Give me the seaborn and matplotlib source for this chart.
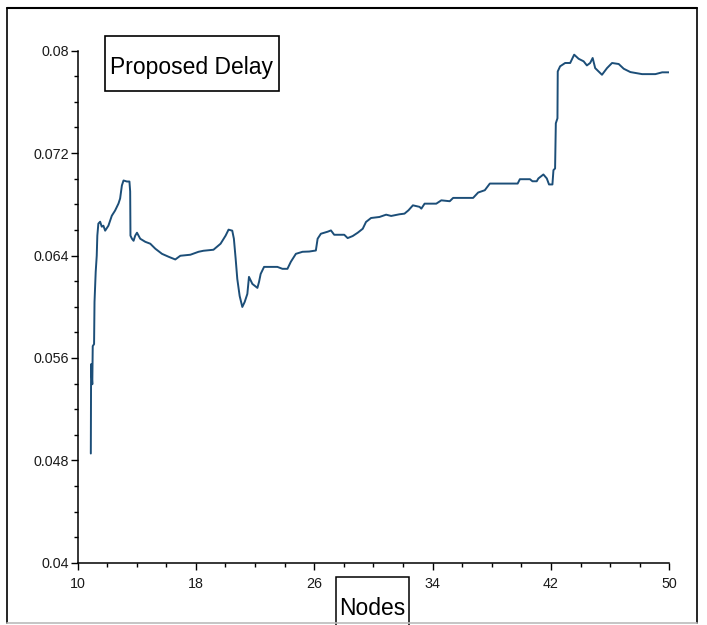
import matplotlib
matplotlib.use("Agg")
import matplotlib.pyplot as plt
import matplotlib.font_manager as fm
from matplotlib.patches import Rectangle
from matplotlib.lines import Line2D
from matplotlib.ticker import MultipleLocator
import seaborn as sns
import pandas as pd

# Average end-to-end delay of the proposed scheme as the node count grows
nodes = [10.90, 10.92, 11.00, 11.03, 11.12, 11.15, 11.23, 11.30, 11.34, 11.41,
         11.53, 11.64, 11.75, 11.87, 12.09, 12.32, 12.54, 12.77, 12.88, 13.00,
         13.11, 13.34, 13.51, 13.56, 13.58, 13.68, 13.79, 13.90, 14.02, 14.24,
         14.58, 14.92, 15.26, 15.71, 16.16, 16.61, 16.95, 17.63, 18.18, 18.51,
         19.19, 19.67, 20.01, 20.21, 20.46, 20.57, 20.69, 20.80, 20.96, 21.14,
         21.30, 21.48, 21.59, 21.82, 22.16, 22.27, 22.38, 22.61, 23.06, 23.51,
         23.85, 24.19, 24.42, 24.76, 25.21, 25.66, 26.11, 26.23, 26.45, 26.91,
         27.13, 27.35, 28.03, 28.26, 28.60, 28.94, 29.28, 29.50, 29.84, 30.41,
         30.86, 31.20, 31.76, 32.10, 32.37, 32.67, 33.12, 33.24, 33.46, 34.25,
         34.59, 35.16, 35.39, 36.74, 37.08, 37.53, 37.87, 38.78, 39.75, 39.90,
         40.58, 40.75, 41.04, 41.15, 41.49, 41.72, 41.87, 42.10, 42.17, 42.28,
         42.33, 42.44, 42.46, 42.62, 42.96, 43.30, 43.57, 43.87, 44.21, 44.43,
         44.65, 44.82, 44.99, 45.22, 45.45, 45.79, 46.13, 46.58, 46.92, 47.37,
         48.16, 49.06, 49.52, 50.00]
delay = [0.04853, 0.05551, 0.05394, 0.05692, 0.05708, 0.06037, 0.06272, 0.06398, 0.06555, 0.06649,
         0.06664, 0.06625, 0.06633, 0.06594, 0.06633, 0.06711, 0.06751, 0.06806, 0.06845, 0.06947,
         0.06986, 0.06978, 0.06978, 0.06900, 0.06555, 0.06531, 0.06515, 0.06555, 0.06578, 0.06531,
         0.06507, 0.06492, 0.06453, 0.06413, 0.06390, 0.06369, 0.06398, 0.06406, 0.06429, 0.06437,
         0.06445, 0.06492, 0.06555, 0.06602, 0.06594, 0.06531, 0.06374, 0.06217, 0.06084, 0.05998,
         0.06037, 0.06100, 0.06233, 0.06178, 0.06147, 0.06194, 0.06256, 0.06311, 0.06311, 0.06311,
         0.06296, 0.06296, 0.06351, 0.06413, 0.06429, 0.06431, 0.06439, 0.06531, 0.06570, 0.06586,
         0.06596, 0.06562, 0.06562, 0.06536, 0.06552, 0.06578, 0.06609, 0.06662, 0.06693, 0.06701,
         0.06719, 0.06709, 0.06722, 0.06727, 0.06753, 0.06792, 0.06780, 0.06766, 0.06805, 0.06805,
         0.06831, 0.06824, 0.06850, 0.06850, 0.06892, 0.06910, 0.06962, 0.06962, 0.06962, 0.06996,
         0.06996, 0.06980, 0.06980, 0.07002, 0.07033, 0.07002, 0.06955, 0.06955, 0.07067, 0.07080,
         0.07433, 0.07472, 0.07838, 0.07878, 0.07904, 0.07904, 0.07969, 0.07937, 0.07917, 0.07885,
         0.07904, 0.07943, 0.07864, 0.07838, 0.07812, 0.07864, 0.07904, 0.07896, 0.07859, 0.07833,
         0.07817, 0.07817, 0.07831, 0.07831]

x_ticks = [10, 18, 26, 34, 42, 50]
y_ticks = [0.04, 0.048, 0.056, 0.064, 0.072, 0.08]
y_tick_labels = ["0.04", "0.048", "0.056", "0.064", "0.072", "0.08"]
title_text = "Proposed Delay"
x_label = "Nodes"

sns.set_style("ticks")

# Prefer a narrow sans face if one is installed
try:
    fm.findfont(fm.FontProperties(family="Liberation Sans Narrow"), fallback_to_default=False)
    narrow = True
except ValueError:
    narrow = False
family = ["Liberation Sans Narrow", "Liberation Sans"] if narrow else ["Liberation Sans"]
plt.rcParams["font.family"] = family
tick_size = 11 if narrow else 10.3
big_size = 20 if narrow else 16.5

df = pd.DataFrame({"Nodes": nodes, "Delay": delay})

fig = plt.figure(figsize=(7.07, 6.25), dpi=100)
ax = fig.add_axes([77.5 / 707, 1 - 562.7 / 625, (669.3 - 77.5) / 707, (562.7 - 50.7) / 625])

sns.lineplot(data=df, x="Nodes", y="Delay", ax=ax, estimator=None, sort=False,
             color="#1c4e78", linewidth=1.4)

ax.set_xlim(10, 50)
ax.set_ylim(0.04, 0.08)
ax.set_xticks(x_ticks)
ax.set_xticklabels([str(t) for t in x_ticks])
ax.set_yticks(y_ticks)
ax.set_yticklabels(y_tick_labels)
ax.xaxis.set_minor_locator(MultipleLocator(2))
ax.yaxis.set_minor_locator(MultipleLocator(0.002))
ax.tick_params(which="major", length=5, width=1.0, color="black",
               labelsize=tick_size, labelcolor="#1a1a1a")
ax.tick_params(which="minor", length=3, width=1.0, color="black")
ax.tick_params(axis="x", which="major", pad=5)
ax.tick_params(axis="y", which="major", pad=1)
for side in ("top", "right"):
    ax.spines[side].set_visible(False)
for side in ("left", "bottom"):
    ax.spines[side].set_linewidth(1.1)
    ax.spines[side].set_color("black")
ax.set_ylabel("")

# Axis label inside its own box below the axis
ax.set_xlabel(x_label, fontsize=big_size, color="black")
ax.xaxis.set_label_coords(372 / 707, 1 - 615 / 625, transform=fig.transFigure)
ax.xaxis.label.set_verticalalignment("baseline")
fig.add_artist(Rectangle((336 / 707, -0.02), (409.3 - 336) / 707, (1 - 577.3 / 625) + 0.02,
                         transform=fig.transFigure, fill=False, edgecolor="black", linewidth=1.1))

# Boxed caption in the upper left
fig.add_artist(Rectangle((105.3 / 707, 1 - 90.7 / 625), (278.7 - 105.3) / 707, 55 / 625,
                         transform=fig.transFigure, fill=False, edgecolor="black", linewidth=1.2))
fig.text(192 / 707, 1 - 74 / 625, title_text, ha="center", va="baseline",
         fontsize=big_size, color="black")

# Outer frame around the whole figure
fig.add_artist(Line2D([7 / 707, 697 / 707], [1 - 7.5 / 625] * 2, transform=fig.transFigure,
                      color="black", linewidth=1.5))
fig.add_artist(Line2D([7 / 707] * 2, [1 - 7.5 / 625, 1 - 623 / 625], transform=fig.transFigure,
                      color="black", linewidth=1.2))
fig.add_artist(Line2D([697 / 707] * 2, [1 - 7.5 / 625, 1 - 623 / 625], transform=fig.transFigure,
                      color="black", linewidth=1.2))
fig.add_artist(Line2D([7 / 707, 697 / 707], [1 - 623 / 625] * 2, transform=fig.transFigure,
                      color="#bbbbbb", linewidth=1.2))

fig.savefig("out.png", dpi=100)
